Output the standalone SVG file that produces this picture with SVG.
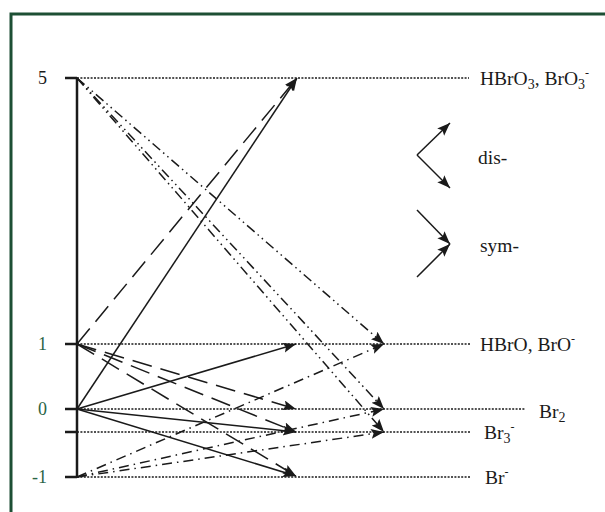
<svg xmlns="http://www.w3.org/2000/svg" width="605" height="512" viewBox="0 0 605 512">
<defs>
<marker id="ah" markerWidth="14" markerHeight="11" refX="13" refY="5" orient="auto" markerUnits="userSpaceOnUse">
<path d="M0,0 L13,5 L0,10 L2.5,5 z" fill="#1a1a1a"/>
</marker>
<style>
.lbl{font-family:"Liberation Serif","Times New Roman",serif;font-size:19.5px;fill:#1a1a1a}
.num{font-family:"Liberation Serif","Times New Roman",serif;font-size:18px;text-anchor:end}
.lvl{stroke:#1a1a1a;stroke-width:1.3;stroke-dasharray:2 1.4;fill:none}
.tick{stroke:#1a1a1a;stroke-width:2.5}
.c{stroke:#1a1a1a;stroke-width:1.5;fill:none;marker-end:url(#ah)}
.solid{}
.dash{stroke-dasharray:20 9}
.dd{stroke-dasharray:10 4 1.5 4 1.5 4}
.dt{stroke-dasharray:10 5 1.5 5}
</style>
</defs>
<rect x="0" y="0" width="605" height="512" fill="#ffffff"/>
<rect x="11" y="14" width="620" height="520" fill="none" stroke="#1d4f34" stroke-width="3"/>

<g id="axis">
<line x1="77" y1="78" x2="77" y2="477" stroke="#1a1a1a" stroke-width="2.5"/>
<line class="tick" x1="65" y1="78" x2="77" y2="78"/>
<line class="tick" x1="65" y1="344" x2="77" y2="344"/>
<line class="tick" x1="65" y1="409" x2="77" y2="409"/>
<line class="tick" x1="65" y1="432" x2="77" y2="432"/>
<line class="tick" x1="65" y1="477" x2="77" y2="477"/>
<text class="num" x="47" y="84" fill="#1a1a1a">5</text>
<text class="num" x="47" y="350" fill="#2a6445">1</text>
<text class="num" x="47" y="415" fill="#2a6445">0</text>
<text class="num" x="47" y="483" fill="#2a6445">-1</text>
</g>

<g id="level-5">
<line class="lvl" x1="77" y1="78" x2="469" y2="78"/>
<text class="lbl" x="480" y="85">HBrO<tspan font-size="14" dy="4">3</tspan><tspan dy="-4">, BrO</tspan><tspan font-size="14" dy="4">3</tspan><tspan font-size="12" dy="-12">-</tspan></text>
</g>
<g id="level-1">
<line class="lvl" x1="77" y1="344" x2="470" y2="344"/>
<text class="lbl" x="480" y="351">HBrO, BrO<tspan font-size="12" dy="-8">-</tspan></text>
</g>
<g id="level-0">
<line class="lvl" x1="77" y1="409" x2="525" y2="409"/>
<text class="lbl" x="539" y="418">Br<tspan font-size="14" dy="4">2</tspan></text>
</g>
<g id="level-br3">
<line class="lvl" x1="77" y1="432" x2="470" y2="432"/>
<text class="lbl" x="484" y="439">Br<tspan font-size="14" dy="4">3</tspan><tspan font-size="12" dy="-12">-</tspan></text>
</g>
<g id="level-m1">
<line class="lvl" x1="77" y1="477" x2="470" y2="477"/>
<text class="lbl" x="485" y="484">Br<tspan font-size="12" dy="-8">-</tspan></text>
</g>

<g id="connectors">
<line class="c solid" x1="77" y1="409" x2="297" y2="78"/>
<line class="c solid" x1="77" y1="409" x2="296" y2="344"/>
<line class="c solid" x1="77" y1="409" x2="296" y2="432"/>
<line class="c solid" x1="77" y1="409" x2="296" y2="476"/>
<line class="c dash" x1="77" y1="344" x2="297" y2="78"/>
<line class="c dash" x1="77" y1="344" x2="296" y2="409"/>
<line class="c dash" x1="77" y1="344" x2="296" y2="432"/>
<line class="c dash" x1="77" y1="344" x2="296" y2="476"/>
<line class="c dd" x1="77" y1="78" x2="384" y2="344"/>
<line class="c dd" x1="77" y1="78" x2="384" y2="409"/>
<line class="c dd" x1="77" y1="78" x2="384" y2="432"/>
<line class="c dt" x1="77" y1="477" x2="384" y2="344"/>
<line class="c dt" x1="77" y1="477" x2="384" y2="409"/>
<line class="c dt" x1="77" y1="477" x2="384" y2="432"/>
</g>

<g id="legend-dis">
<line class="c" x1="417" y1="155" x2="450" y2="123"/>
<line class="c" x1="417" y1="155" x2="450" y2="188"/>
<text class="lbl" x="478" y="164">dis-</text>
</g>
<g id="legend-sym">
<line class="c" x1="417" y1="210" x2="450" y2="244"/>
<line class="c" x1="417" y1="277" x2="450" y2="244"/>
<text class="lbl" x="480" y="252">sym-</text>
</g>
</svg>
